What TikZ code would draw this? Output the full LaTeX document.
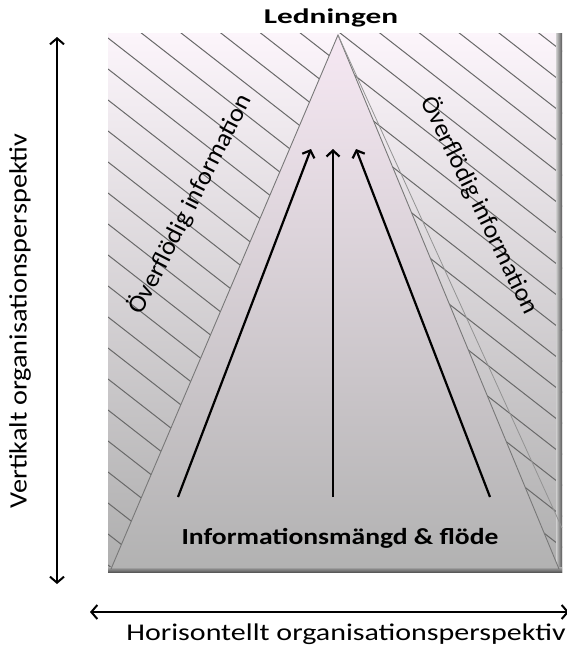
\documentclass[tikz,border=0pt]{standalone}
\usepackage{fontspec}
\setmainfont{Carlito}
\usetikzlibrary{arrows.meta}
\definecolor{paletop}{RGB}{252,245,251}
\definecolor{palebot}{RGB}{174,174,174}
\definecolor{tritop}{RGB}{246,232,243}
\definecolor{tribot}{RGB}{178,178,178}
\definecolor{hatchgray}{RGB}{105,105,105}
\definecolor{edgegray}{RGB}{120,120,120}
\tikzset{
  flow/.style={line width=2.2pt, -{Straight Barb[length=6pt,width=13pt,line width=2.2pt]}},
  axis/.style={line width=2pt, {Straight Barb[length=6pt,width=14pt,line width=2pt]}-{Straight Barb[length=6pt,width=14pt,line width=2pt]}},
  hatch/.style={hatchgray, line width=1pt},
  lbl/.style={inner sep=0pt, font=\fontsize{20}{24}\selectfont}
}
\begin{document}
\begin{tikzpicture}[x=1pt,y=-1pt]
\useasboundingbox (0,0) rectangle (567,645);

% background panel with vertical gradient
\shade[top color=paletop, bottom color=palebot] (108,33) rectangle (562,572);

% diagonal hatching over the panel
\begin{scope}
  \clip (108,33) rectangle (562,572);
  \foreach \k in {-20,...,22} {
    \draw[hatch] (108,{38+31*\k}) -- ++(460,{0.78*460});
  }
\end{scope}

% bevelled right and bottom rims
\shade[left color=palebot!60!white, right color=black!65] (556,33) rectangle (562,572);
\shade[top color=palebot, bottom color=black!65] (108,567) rectangle (562,572);

% the pyramid
\coordinate (apex) at (338,35);
\coordinate (bl) at (111,569);
\coordinate (br) at (559,569);
\shade[top color=tritop, bottom color=tribot, draw=edgegray, line width=0.9pt]
  (apex) -- (br) -- (bl) -- cycle;
\draw[edgegray!80, line width=0.8pt] (apex) -- (562,528);

% flow arrows
\coordinate (t1) at (178,497);
\coordinate (h1) at (311,149);
\coordinate (t2) at (333,497);
\coordinate (h2) at (333,149);
\coordinate (t3) at (490,497);
\coordinate (h3) at (356,149);
\draw[flow] (t1) -- (h1);
\draw[flow] (t2) -- (h2);
\draw[flow] (t3) -- (h3);

% axes
\coordinate (vtop) at (57,37);
\coordinate (vbot) at (57,584);
\coordinate (hl) at (90,612);
\coordinate (hr) at (569,612);
\draw[axis] (vtop) -- (vbot);
\draw[axis] (hl) -- (hr);

% labels
\node[lbl, font=\bfseries\fontsize{21}{24}\selectfont, xscale=1.49] (lead) at (331,18) {Ledningen};
\node[lbl, font=\bfseries\fontsize{23}{26}\selectfont, xscale=1.2] (info) at (340,538) {Informationsmängd \& flöde};
\node[lbl, font=\fontsize{24}{28}\selectfont, xscale=1.25] (horiz) at (346,634) {Horisontellt organisationsperspektiv};
\node[lbl, font=\fontsize{25}{28}\selectfont, rotate=90, xscale=1.13] (vert) at (20,321) {Vertikalt organisationsperspektiv};
\node[lbl, font=\fontsize{25}{28}\selectfont, rotate=63, xscale=1.05] (ovl) at (190,204) {Överflödig information};
\node[lbl, font=\fontsize{25}{28}\selectfont, rotate=-64, xscale=1.03] (ovr) at (480,205) {Överflödig information};
\end{tikzpicture}
\end{document}
